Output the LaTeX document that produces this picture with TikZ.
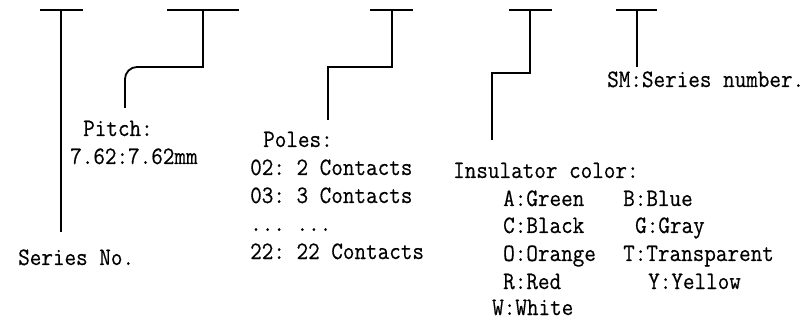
\documentclass[tikz,border=0pt]{standalone}
\usepackage{fontspec}
\setmonofont[FakeStretch=0.9,FakeBold=0.4]{Latin Modern Mono}
\begin{document}
\begin{tikzpicture}[x=1pt,y=-1pt,
  lbl/.style={inner sep=0pt, anchor=base west, font=\ttfamily\fontsize{25}{30}\selectfont},
  ln/.style={line width=1.8pt, line join=miter}]
\useasboundingbox (0,0) rectangle (808,320);
% texts
\node[lbl] (series) at (18,265) {Series No.};
\node[lbl] (pitch) at (83,136) {Pitch:};
\node[lbl] (pitchv) at (70,164) {7.62:7.62mm};
\node[lbl] (poles) at (263,147) {Poles:};
\node[lbl] (p02) at (250,175) {02: 2 Contacts};
\node[lbl] (p03) at (250,203) {03: 3 Contacts};
\node[lbl] (pdots) at (250,231) {... ...};
\node[lbl] (p22) at (250,259) {22: 22 Contacts};
\node[lbl] (insul) at (453,178) {Insulator color:};
\node[lbl] (cA) at (503,206) {A:Green};
\node[lbl] (cB) at (623,206) {B:Blue};
\node[lbl] (cC) at (503,233) {C:Black};
\node[lbl] (cG) at (635,233) {G:Gray};
\node[lbl] (cO) at (503,261) {O:Orange};
\node[lbl] (cT) at (623,261) {T:Transparent};
\node[lbl] (cR) at (503,289) {R:Red};
\node[lbl] (cY) at (648,289) {Y:Yellow};
\node[lbl] (cW) at (492,315) {W:White};
\node[lbl] (sm) at (607,87) {SM:Series number.};
% T1
\coordinate (t1l) at (40,10); \coordinate (t1r) at (83,10);
\coordinate (t1) at (61,10); \coordinate (e1) at (61,232);
\draw[ln] (t1l) -- (t1r);
\draw[ln] (t1) -- (e1);
% T2
\coordinate (t2l) at (167,10); \coordinate (t2r) at (239,10);
\coordinate (t2) at (203,10); \coordinate (k2) at (203,67);
\coordinate (r2) at (137,67); \coordinate (s2) at (125,79);
\coordinate (e2) at (125,108);
\draw[ln] (t2l) -- (t2r);
\draw[ln] (t2) -- (k2) -- (r2) .. controls (130.4,67) and (125,72.4) .. (s2) -- (e2);
% T3
\coordinate (t3l) at (370,10); \coordinate (t3r) at (413,10);
\coordinate (t3) at (392,10); \coordinate (k3) at (392,67);
\coordinate (j3) at (328,67); \coordinate (e3) at (328,120);
\draw[ln] (t3l) -- (t3r);
\draw[ln] (t3) -- (k3) -- (j3) -- (e3);
% T4
\coordinate (t4l) at (509,10); \coordinate (t4r) at (552,10);
\coordinate (t4) at (530,10); \coordinate (k4) at (530,73);
\coordinate (j4) at (492,73); \coordinate (e4) at (492,140);
\draw[ln] (t4l) -- (t4r);
\draw[ln] (t4) -- (k4) -- (j4) -- (e4);
% T5
\coordinate (t5l) at (616,10); \coordinate (t5r) at (657,10);
\coordinate (t5) at (637,10); \coordinate (e5) at (637,67);
\draw[ln] (t5l) -- (t5r);
\draw[ln] (t5) -- (e5);
\end{tikzpicture}
\end{document}
